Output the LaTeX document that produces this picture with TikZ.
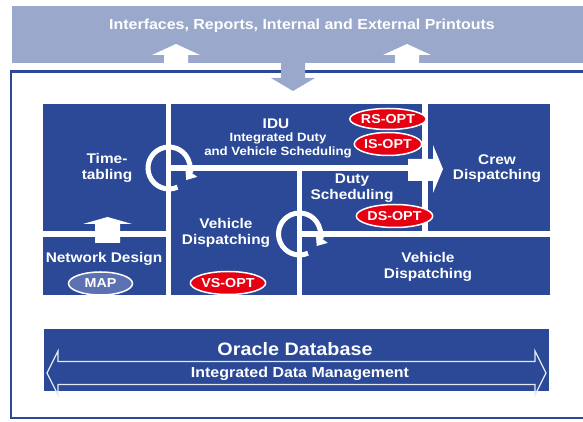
\documentclass[tikz,border=0pt]{standalone}
\usepackage{fontspec}
\setmainfont{Liberation Sans}[FakeStretch=1.1]
\usetikzlibrary{arrows.meta,shapes.geometric}
\definecolor{blk}{RGB}{43,73,151}
\definecolor{bannerblue}{RGB}{154,168,204}
\definecolor{optred}{RGB}{230,0,18}
\definecolor{mapblue}{RGB}{92,113,178}
\begin{document}
\begin{tikzpicture}[x=1pt,y=1pt,
  blockfill/.style={fill=blk},
  lbl/.style={text=white, font=\bfseries\fontsize{14}{15.5}\selectfont, align=center, inner sep=0pt},
  small/.style={text=white, font=\bfseries\fontsize{12}{14}\selectfont, align=center, inner sep=0pt},
  optlbl/.style={ellipse, draw=white, line width=1.5pt, text=white, inner sep=0pt,
     font=\bfseries\fontsize{13}{14}\selectfont, minimum width=64pt, minimum height=23pt},
  redopt/.style={optlbl, fill=optred},
  mapopt/.style={optlbl, fill=mapblue},
  whitearrow/.style={fill=white, draw=none},
  cyc/.style={draw=white, line width=5pt, -{Triangle[width=14pt,length=9pt]}}
]
\useasboundingbox (0,0) rectangle (583,422);
\clip (0,0) rectangle (583,422);

% top banner
\fill[bannerblue] (12,359) rectangle (590,416);
\node[text=white, font=\bfseries\fontsize{14.5}{16}\selectfont, inner sep=0pt] (banner) at (302,396)
  {Interfaces, Reports, Internal and External Printouts};
% up arrows in the banner
\fill[whitearrow] (164,359) -- (164,367) -- (152,367) -- (176,378) -- (200,367) -- (188,367) -- (188,359) -- cycle;
\fill[whitearrow] (395,359) -- (395,367) -- (383,367) -- (407,378) -- (431,367) -- (419,367) -- (419,359) -- cycle;

% outer frame
\draw[blk, line width=2.6pt] (11,4) rectangle (600,350.5);
% down arrow
\fill[bannerblue] (281,360) -- (281,344) -- (271,344) -- (293,331) -- (315,344) -- (305,344) -- (305,360) -- cycle;

% blocks
\fill[blockfill] (43,191) rectangle (166,318);   % timetabling
\fill[blockfill] (43,127) rectangle (166,185);   % network design
\fill[blockfill] (171,257) rectangle (422,318);  % IDU
\fill[blockfill] (171,127) rectangle (297,251);  % vehicle dispatching (middle)
\fill[blockfill] (302,191) rectangle (422,251);  % duty scheduling
\fill[blockfill] (302,127) rectangle (550,185);  % vehicle dispatching (bottom)
\fill[blockfill] (428,191) rectangle (550,318);  % crew dispatching

% up arrow network design -> timetabling
\fill[whitearrow] (95,179) -- (95,198) -- (83,198) -- (107.5,205) -- (132,198) -- (120,198) -- (120,179) -- cycle;

% right arrow to crew dispatching
\fill[whitearrow] (408,241) -- (433,241) -- (433,229) -- (443,253) -- (433,277) -- (433,263) -- (408,263) -- cycle;

% cycle arrows
\coordinate (c1) at (169,254);
\coordinate (c2) at (299.5,188);
\draw[cyc] (c1) ++(-66:21) arc[start angle=-66, end angle=-395, radius=21];
\draw[cyc] (c2) ++(-66:21) arc[start angle=-66, end angle=-395, radius=21];

% labels
\node[lbl] (tt) at (107,254) {Time-\\tabling};
\node[lbl] (idu) at (276,298) {IDU};
\node[small] (iduf) at (278,277) {Integrated Duty\\and Vehicle Scheduling};
\node[lbl] (vdm) at (226,189) {Vehicle\\Dispatching};
\node[lbl] (nd) at (104,163) {Network Design};
\node[lbl] (ds) at (352,234) {Duty\\Scheduling};
\node[lbl] (cd) at (497,253.5) {Crew\\Dispatching};
\node[lbl] (vdb) at (428,155) {Vehicle\\Dispatching};

% option ellipses
\node[redopt, minimum height=21pt] (rs) at (388,303) {RS-OPT};
\node[redopt] (is) at (388,278) {IS-OPT};
\node[redopt] (dso) at (394.5,206) {DS-OPT};
\node[redopt] (vs) at (228,139) {VS-OPT};
\node[mapopt] (map) at (100.5,138.5) {MAP};

% database
\fill[blockfill] (44,31) rectangle (549,93);
\draw[white!88!blk, line width=1.2pt] (47,49) -- (58,71) -- (58,60.5) -- (535,60.5) -- (535,71) -- (546,49)
  -- (535,27) -- (535,37.5) -- (58,37.5) -- (58,27) -- cycle;
\node[text=white, font=\bfseries\fontsize{18}{20}\selectfont, inner sep=0pt] (odb) at (295,73) {Oracle Database};
\node[text=white, font=\bfseries\fontsize{14.5}{16}\selectfont, inner sep=0pt] (idm) at (300,48) {Integrated Data Management};
\end{tikzpicture}
\end{document}
